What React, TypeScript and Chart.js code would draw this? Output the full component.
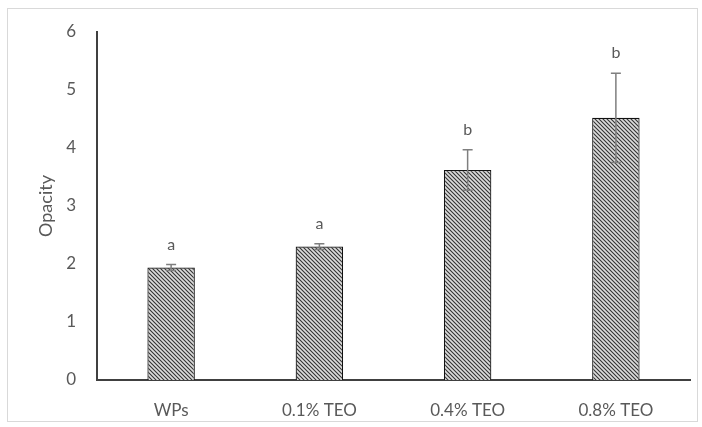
import React, { useEffect, useRef } from "react";
import { Chart, registerables } from "chart.js";

Chart.register(...registerables);

const categories = ["WPs", "0.1% TEO", "0.4% TEO", "0.8% TEO"];
const values = [1.94, 2.3, 3.62, 4.52];
const errors = [0.05, 0.05, 0.35, 0.77];
const letters = ["a", "a", "b", "b"];
const yTicks = [0, 1, 2, 3, 4, 5, 6];

const FONT = "Lato, 'Open Sans', sans-serif";
const GRAY = "#595959";

function makePattern(): CanvasPattern | string {
  const c = document.createElement("canvas");
  const s = 4;
  c.width = s;
  c.height = s;
  const g = c.getContext("2d");
  if (!g) return "#888";
  g.fillStyle = "#dcdcdc";
  g.fillRect(0, 0, s, s);
  g.strokeStyle = "#333333";
  g.lineWidth = 1.1;
  g.beginPath();
  g.moveTo(-1, -1);
  g.lineTo(s + 1, s + 1);
  g.moveTo(-1, s - 1);
  g.lineTo(1, s + 1);
  g.moveTo(s - 1, -1);
  g.lineTo(s + 1, 1);
  g.stroke();
  const p = g.createPattern(c, "repeat");
  return p || "#888";
}

const overlayPlugin = {
  id: "overlay",
  beforeDraw(chart: any) {
    const ctx = chart.ctx;
    ctx.save();
    ctx.fillStyle = "#ffffff";
    ctx.fillRect(0, 0, chart.width, chart.height);
    ctx.strokeStyle = "#d9d9d9";
    ctx.lineWidth = 1;
    ctx.strokeRect(7.5, 8.5, 690, 413);
    ctx.restore();
  },
  afterDatasetsDraw(chart: any) {
    const ctx = chart.ctx;
    const y = chart.scales.y;
    const meta = chart.getDatasetMeta(0);
    ctx.save();
    values.forEach((v, i) => {
      const el = meta.data[i];
      if (!el) return;
      const x = el.x;
      const top = y.getPixelForValue(v + errors[i]);
      const bot = y.getPixelForValue(v - errors[i]);
      ctx.strokeStyle = "#7f7f7f";
      ctx.lineWidth = 1.5;
      ctx.beginPath();
      ctx.moveTo(x, top);
      ctx.lineTo(x, bot);
      ctx.moveTo(x - 5, top);
      ctx.lineTo(x + 5, top);
      ctx.moveTo(x - 5, bot);
      ctx.lineTo(x + 5, bot);
      ctx.stroke();
      ctx.fillStyle = GRAY;
      ctx.font = `16px ${FONT}`;
      ctx.textAlign = "center";
      ctx.textBaseline = "middle";
      ctx.fillText(letters[i], x, top - 20);
    });
    ctx.restore();
  },
};

export default function App() {
  const ref = useRef<HTMLCanvasElement | null>(null);
  useEffect(() => {
    if (!ref.current) return;
    const chart = new Chart(ref.current, {
      type: "bar",
      data: {
        labels: categories,
        datasets: [
          {
            data: values,
            backgroundColor: makePattern() as any,
            borderColor: "#111111",
            borderWidth: 1.2,
            categoryPercentage: 1,
            barPercentage: 0.32,
          },
        ],
      },
      options: {
        animation: false,
        responsive: false,
        maintainAspectRatio: false,
        layout: { padding: { left: 0, right: 12, top: 32, bottom: 0 } },
        plugins: {
          legend: { display: false },
          tooltip: { enabled: false },
        },
        scales: {
          x: {
            grid: { display: false, drawTicks: false },
            border: { display: true, color: "#404040", width: 2 },
            ticks: {
              color: GRAY,
              font: { family: FONT, size: 17 },
              padding: 20,
            },
            afterFit: (s: any) => {
              s.height = 47;
            },
          },
          y: {
            min: 0,
            max: 6,
            grid: { display: false, drawTicks: false },
            border: { display: true, color: "#404040", width: 2 },
            afterBuildTicks: (s: any) => {
              s.ticks = yTicks.map((v) => ({ value: v }));
            },
            ticks: {
              color: GRAY,
              font: { family: FONT, size: 17 },
              padding: 21,
            },
            title: {
              display: true,
              text: "Opacity",
              color: GRAY,
              font: { family: FONT, size: 18 },
              padding: { top: 35, bottom: 0 },
            },
            afterFit: (s: any) => {
              s.width = 97;
            },
          },
        },
      },
      plugins: [overlayPlugin],
    });
    return () => chart.destroy();
  }, []);
  return (
    <div style={{ position: "fixed", left: 0, top: 0, width: 702, height: 427 }}>
      <canvas ref={ref} width={702} height={427} style={{ display: "block" }} />
    </div>
  );
}
